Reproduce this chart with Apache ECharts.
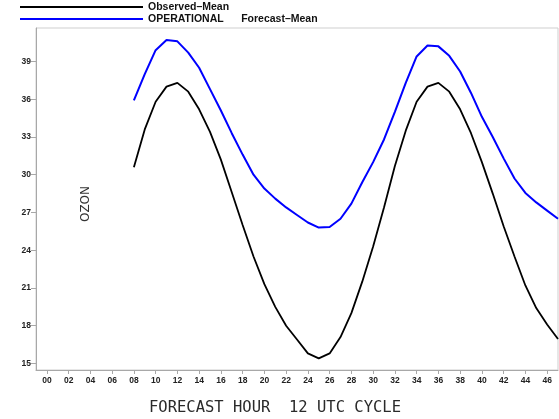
<!DOCTYPE html>
<html>
<head>
<meta charset="utf-8">
<script src="https://cdn.jsdelivr.net/npm/echarts@6/dist/echarts.min.js"></script>
<style>
  html, body { margin: 0; padding: 0; background: #fff; }
  #chart { width: 559px; height: 419px; }
</style>
</head>
<body>
<div id="chart"></div>
<script>
// Forecast hours (12 UTC cycle)
var hours = [8, 9, 10, 11, 12, 13, 14, 15, 16, 17, 18, 19, 20, 21, 22, 23,
             24, 25, 26, 27, 28, 29, 30, 31, 32, 33, 34, 35, 36, 37, 38, 39,
             40, 41, 42, 43, 44, 45, 46, 47];

// Observed mean ozone
var observedMean = [30.6, 33.6, 35.8, 37.0, 37.3, 36.6, 35.2, 33.4, 31.2, 28.6,
                    26.0, 23.5, 21.3, 19.5, 18.0, 16.9, 15.8, 15.4, 15.8, 17.1,
                    19.0, 21.5, 24.3, 27.4, 30.7, 33.5, 35.8, 37.0, 37.3, 36.6,
                    35.2, 33.3, 31.0, 28.5, 25.9, 23.5, 21.2, 19.4, 18.1, 16.95];

// Operational forecast mean ozone
var forecastMean = [35.9, 38.0, 39.9, 40.7, 40.6, 39.7, 38.5, 36.8, 35.1, 33.3,
                    31.6, 30.0, 28.9, 28.1, 27.4, 26.8, 26.2, 25.8, 25.85, 26.5,
                    27.7, 29.4, 31.0, 32.8, 35.0, 37.3, 39.4, 40.27, 40.2, 39.45,
                    38.2, 36.5, 34.6, 33.0, 31.3, 29.7, 28.55, 27.8, 27.15, 26.5];

// Axis tick positions
var xTicks = [0, 2, 4, 6, 8, 10, 12, 14, 16, 18, 20, 22, 24, 26, 28, 30, 32,
              34, 36, 38, 40, 42, 44, 46];
var yTicks = [15, 18, 21, 24, 27, 30, 33, 36, 39];

var seriesNames = ['Observed\u2013Mean', 'OPERATIONAL      Forecast\u2013Mean'];
var xTitle = 'FORECAST HOUR  12 UTC CYCLE';
var yTitle = 'OZON';

function pairs(vals) {
  return hours.map(function (h, i) { return [h, vals[i]]; });
}

var chart = echarts.init(document.getElementById('chart'), null, { renderer: 'canvas' });

var tickLabelStyle = {
  color: '#222',
  fontFamily: 'Liberation Sans, Arial, sans-serif',
  fontWeight: 'bold',
  fontSize: 8.5
};

chart.setOption({
  animation: false,
  backgroundColor: '#fff',
  grid: {
    left: 36, right: 1, top: 28, bottom: 49,
    outerBoundsMode: 'none',
    containLabel: false,
    show: true,
    borderColor: '#cfcfcf',
    borderWidth: 1,
    backgroundColor: 'transparent'
  },
  legend: {
    orient: 'vertical',
    left: 20,
    top: 1,
    padding: 0,
    icon: 'rect',
    itemWidth: 123,
    itemHeight: 2,
    itemGap: 0,
    selectedMode: false,
    textStyle: {
      color: '#111',
      fontFamily: 'Liberation Sans, Arial, sans-serif',
      fontWeight: 'bold',
      fontSize: 10.5,
      lineHeight: 12
    },
    data: [
      { name: seriesNames[0], itemStyle: { color: '#000' } },
      { name: seriesNames[1], itemStyle: { color: '#0000ff' } }
    ]
  },
  xAxis: {
    type: 'value',
    min: -1,
    max: 47,
    axisLine: { show: true, onZero: false, lineStyle: { color: '#a8a8a8', width: 1 } },
    axisTick: {
      show: true, length: 4, inside: false,
      customValues: xTicks,
      lineStyle: { color: '#a8a8a8' }
    },
    axisLabel: {
      show: true,
      margin: 6,
      customValues: xTicks,
      formatter: function (v) { return (v < 10 ? '0' : '') + v; },
      ...tickLabelStyle
    },
    splitLine: { show: false }
  },
  yAxis: {
    type: 'value',
    min: 14.48,
    max: 41.66,
    axisLine: { show: true, onZero: false, lineStyle: { color: '#a8a8a8', width: 1 } },
    axisTick: {
      show: true, length: 5, inside: false,
      customValues: yTicks,
      lineStyle: { color: '#a8a8a8' }
    },
    axisLabel: {
      show: true,
      margin: 5,
      customValues: yTicks,
      ...tickLabelStyle
    },
    splitLine: { show: false }
  },
  graphic: [
    {
      type: 'text',
      x: 86,
      y: 204,
      rotation: Math.PI / 2,
      style: {
        text: yTitle,
        fill: '#333',
        font: '12px "DejaVu Sans", sans-serif',
        align: 'center',
        verticalAlign: 'middle'
      }
    },
    {
      type: 'text',
      x: 275,
      y: 408,
      style: {
        text: xTitle,
        fill: '#2a2a2a',
        font: '15.5px "DejaVu Sans Mono", monospace',
        align: 'center',
        verticalAlign: 'middle'
      }
    }
  ],
  series: [
    {
      name: seriesNames[0],
      type: 'line',
      data: pairs(observedMean),
      symbol: 'none',
      smooth: false,
      lineStyle: { color: '#000', width: 1.8 },
      itemStyle: { color: '#000' }
    },
    {
      name: seriesNames[1],
      type: 'line',
      data: pairs(forecastMean),
      symbol: 'none',
      smooth: false,
      lineStyle: { color: '#0000ff', width: 2 },
      itemStyle: { color: '#0000ff' }
    }
  ]
});
</script>
</body>
</html>
